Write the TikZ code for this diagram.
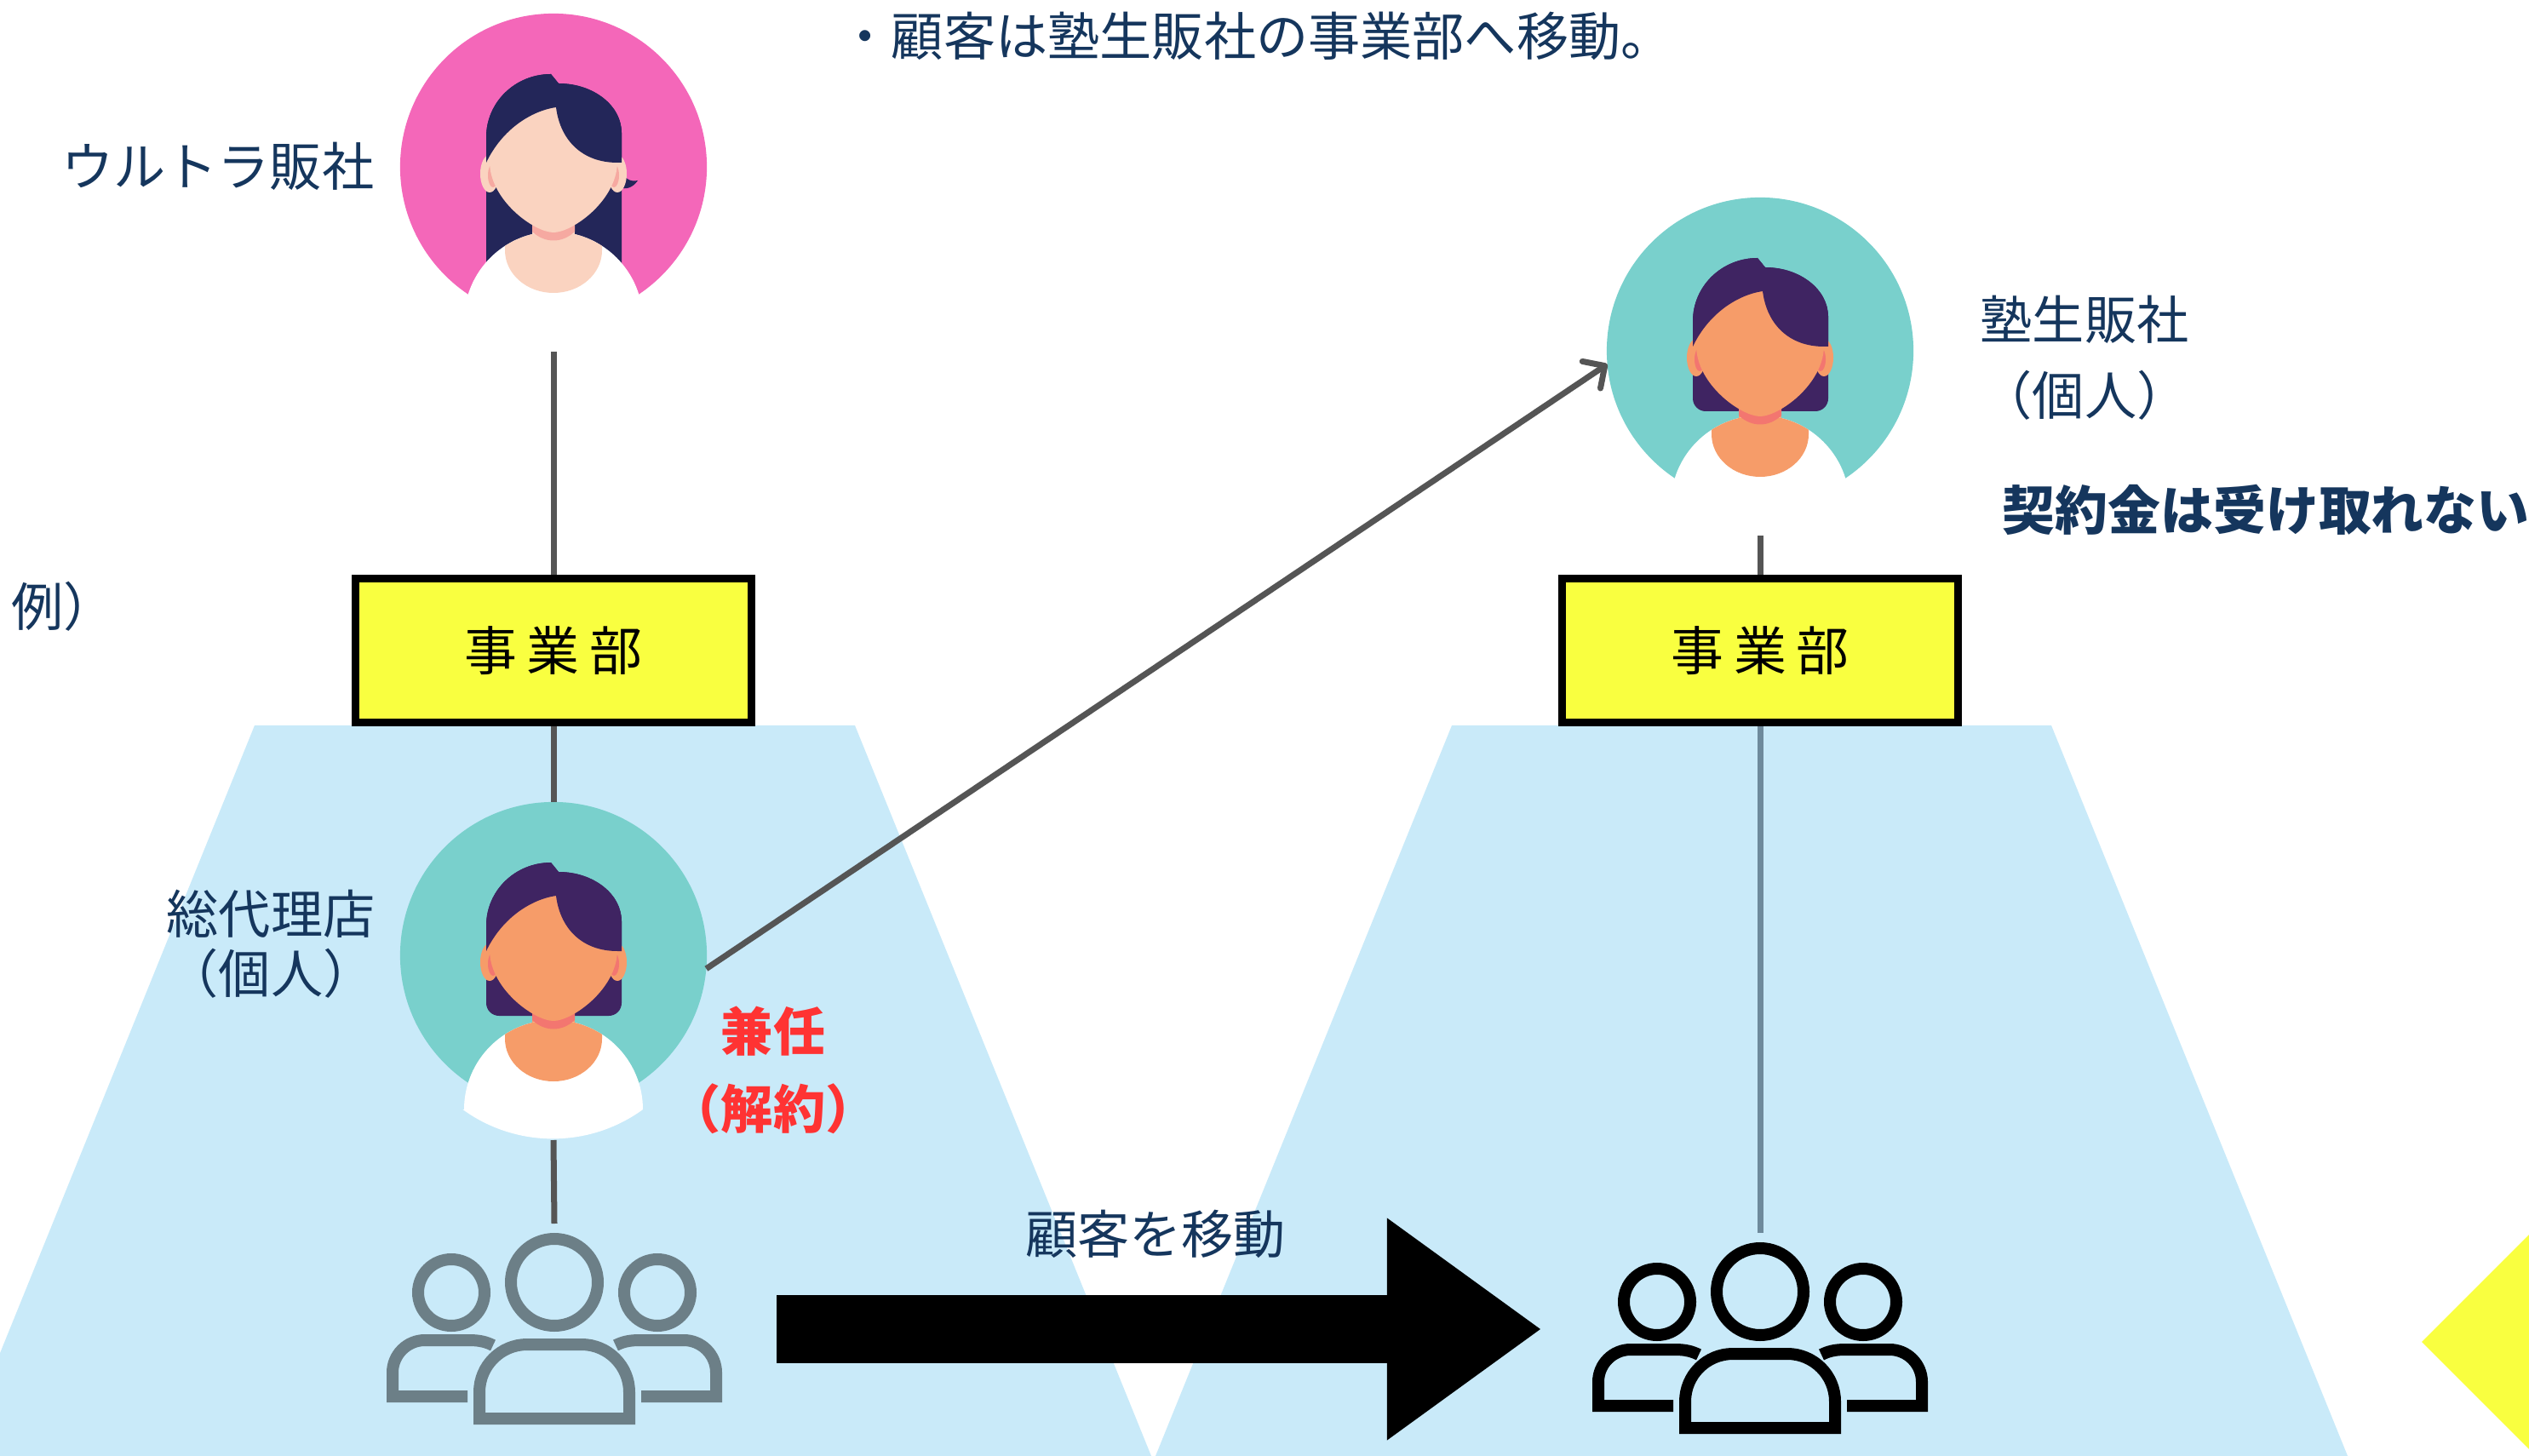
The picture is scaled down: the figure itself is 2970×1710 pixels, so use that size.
\documentclass[tikz,border=0pt]{standalone}
\usepackage{fontspec}
\setmainfont{Noto Sans CJK JP}
\usepackage{xcolor}
\usetikzlibrary{arrows.meta}

\definecolor{pinkbg}{HTML}{F467B9}
\definecolor{tealbg}{HTML}{79D0CC}
\definecolor{navyhair}{HTML}{232659}
\definecolor{plumhair}{HTML}{3F2462}
\definecolor{paleskin}{HTML}{FAD3C0}
\definecolor{palerose}{HTML}{F6A9A1}
\definecolor{tanskin}{HTML}{F69C69}
\definecolor{coral}{HTML}{F37670}
\definecolor{zoneblue}{HTML}{C9EAF9}
\definecolor{boxyellow}{HTML}{F9FF40}
\definecolor{textnavy}{HTML}{15365D}
\definecolor{alertred}{HTML}{FF3333}
\definecolor{linegray}{HTML}{555555}
\definecolor{crowdgray}{HTML}{6C7F87}
\definecolor{steelline}{HTML}{6E8A9C}

\begin{document}
\begin{tikzpicture}[x=0.01cm, y=-0.01cm]
        % ================= 样式定义 =================
        \tikzset{
            % 文字
            note/.style={inner sep=0pt, text=textnavy, font=\fontsize{17.4pt}{20pt}\selectfont},
            warn/.style={inner sep=0pt, text=alertred, font=\fontsize{17.4pt}{25.9pt}\selectfont\bfseries},
            % 事业部方框
            deptbox/.style={draw=black, line width=0.09cm, fill=boxyellow, minimum width=4.64cm, minimum height=1.69cm, inner sep=0pt, font=\fontsize{17.6pt}{20pt}\selectfont},
            % 连线
            link/.style={line width=0.07cm, draw=linegray},
            bigarrow/.style={line width=0.8cm, draw=black, shorten <=0.64cm, shorten >=0.61cm,
                -{Triangle[length=1.8cm, width=2.61cm, line width=0pt]}},
            zone/.style={fill=zoneblue},
            % 头像: 底色, 头发, 皮肤, 阴影, 长发(1)/短发(0)
            pics/avatar/.style n args={5}{code={
                \node[circle, minimum size=3.6cm, inner sep=0pt, outer sep=0pt, fill=#1] (-disc) at (0,0) {};
                \ifnum#5=1
                    \fill[#2] (-79,-35) -- (-79,140) -- (80,140) -- (80,-40)
                        arc[start angle=0, end angle=-90, x radius=74, y radius=58] -- (-3,-109)
                        arc[start angle=-90, end angle=-180, x radius=76, y radius=74] -- cycle;
                    \fill[#2] (78,0) .. controls (82,14) and (90,18) .. (99,16) .. controls (93,25) and (84,27) .. (78,24) -- cycle;
                \else
                    \fill[#2] (-79,-35) -- (-79,56) arc[start angle=180, end angle=90, radius=15]
                        -- (65,71) arc[start angle=90, end angle=0, radius=15] -- (80,-40)
                        arc[start angle=0, end angle=-90, x radius=74, y radius=58] -- (-3,-109)
                        arc[start angle=-90, end angle=-180, x radius=76, y radius=74] -- cycle;
                \fi
                % 脖子
                \fill[#3] (-25,30) rectangle (25,100);
                % 衣服
                \fill[white] (-105,181) arc[start angle=180, end angle=360, radius=105]
                    arc[start angle=54, end angle=126, radius=180] -- cycle;
                \begin{scope}
                    \clip (0,181) circle (105);
                    \fill[#3] (-57,40) -- (-57,98) arc[start angle=180, end angle=0, x radius=57, y radius=50] -- (57,40) -- cycle;
                \end{scope}
                \fill[#4] (-25,50) -- (-25,76) .. controls (-10,90) and (10,90) .. (25,76) -- (25,50) -- cycle;
                % 耳朵
                \foreach \s in {-1,1} {
                    \fill[#3] (\s*75,8) ellipse [x radius=11, y radius=22];
                    \fill[#4] (\s*71,10) ellipse [x radius=6, y radius=14];
                }
                % 脸
                \fill[#3] (-75,-5) .. controls (-74,40) and (-22,77) .. (0,77) .. controls (22,77) and (74,40) .. (75,-5)
                    arc[start angle=0, end angle=-180, x radius=75, y radius=70] -- cycle;
                % 刘海
                \fill[#2] (-79,-5) .. controls (-60,-45) and (-25,-66) .. (3,-70) .. controls (8,-30) and (35,-5) .. (75,-5)
                    -- (80,-5) -- (80,-40) arc[start angle=0, end angle=-90, x radius=74, y radius=58] -- (-3,-109)
                    arc[start angle=-90, end angle=-180, x radius=76, y radius=74] -- cycle;
                \coordinate (-foot) at (0,217);
            }},
            % 人群图标
            pics/crowd/.style={code={
                \draw[line width=0.14cm] (0,0) circle (51);
                \draw[line width=0.14cm] (-121,12) circle (39);
                \draw[line width=0.14cm] (121,12) circle (39);
                \draw[line width=0.14cm] (-88,160) -- (-88,129) arc[start angle=180, end angle=270, radius=56]
                    -- (32,73) arc[start angle=270, end angle=360, radius=56] -- (88,160) -- cycle;
                \draw[line width=0.14cm] (-102,134) -- (-190,134) -- (-190,106) arc[start angle=180, end angle=270, radius=38]
                    -- (-100,68) .. controls (-88,68) and (-80,70) .. (-72,74);
                \draw[line width=0.14cm] (102,134) -- (190,134) -- (190,106) arc[start angle=0, end angle=-90, radius=38]
                    -- (100,68) .. controls (88,68) and (80,70) .. (72,74);
                \coordinate (-top) at (0,-69);
                \coordinate (-east) at (197,55);
                \coordinate (-west) at (-197,55);
            }}
        }

        \fill[white] (0,0) rectangle (2970,1710);
        \useasboundingbox (0,0) rectangle (2970,1710);
        \clip (0,0) rectangle (2970,1710);

        % ================= 背景 =================
        \fill[zone] (299,852) -- (1004,852) -- (1352,1710) -- (-49,1710) -- cycle;
        \fill[zone] (1705,852) -- (2409,852) -- (2757,1710) -- (1357,1710) -- cycle;
        \fill[boxyellow] (2844,1576) -- (2990,1430) -- (2990,1722) -- cycle;

        % ================= 节点 =================
        \pic (ultra) at (650,196) {avatar={pinkbg}{navyhair}{paleskin}{palerose}{1}};
        \pic (agent) at (650,1122) {avatar={tealbg}{plumhair}{tanskin}{coral}{0}};
        \pic (juku) at (2067,412) {avatar={tealbg}{plumhair}{tanskin}{coral}{0}};

        \node[deptbox] (ultrabox) at (650,764) {事\hspace{0.12cm}業\hspace{0.12cm}部};
        \node[deptbox] (jukubox) at (2067,764) {事\hspace{0.12cm}業\hspace{0.12cm}部};

        \pic[color=crowdgray] (crowdL) at (651,1506) {crowd};
        \pic[color=black] (crowdR) at (2067,1517) {crowd};

        % ================= 连边 =================
        \draw[link] (ultra-foot) -- (ultrabox.north);
        \draw[link] (ultrabox.south) -- (agent-disc.north);
        \draw[link] (agent-foot) -- (crowdL-top);
        \draw[link] (juku-foot) -- (jukubox.north);
        \draw[link, draw=steelline] (jukubox.south) -- (crowdR-top);
        \draw[link, -{Straight Barb[length=0.19cm, width=0.38cm, round]}] (agent-disc.-5) -- (juku-disc.185.7);
        \draw[bigarrow] (crowdL-east) -- (crowdR-west |- crowdL-east);

        % ================= 文字 =================
        \node[note, anchor=west] (headline) at (985,42) {・顧客は塾生販社の事業部へ移動。};
        \node[note, anchor=east] (ultralabel) at (440,195) {ウルトラ販社};
        \node[note, anchor=west] (example) at (13,712) {例）};
        \node[note, align=center] (agentlabel) at (318,1109) {総代理店\\（個人）};
        \node[note, align=left, anchor=west, font=\fontsize{17.4pt}{25.3pt}\selectfont] (jukulabel) at (2325,420) {塾生販社\\（個人）};
        \node[note, anchor=west, font=\fontsize{17.6pt}{20pt}\selectfont\bfseries] (nofee) at (2351,599) {契約金は受け取れない};
        \node[warn, align=center] (dual) at (908,1257) {兼任\\（解約）};
        \node[note] (movelabel) at (1357,1449) {顧客を移動};

    \end{tikzpicture}
\end{document}
